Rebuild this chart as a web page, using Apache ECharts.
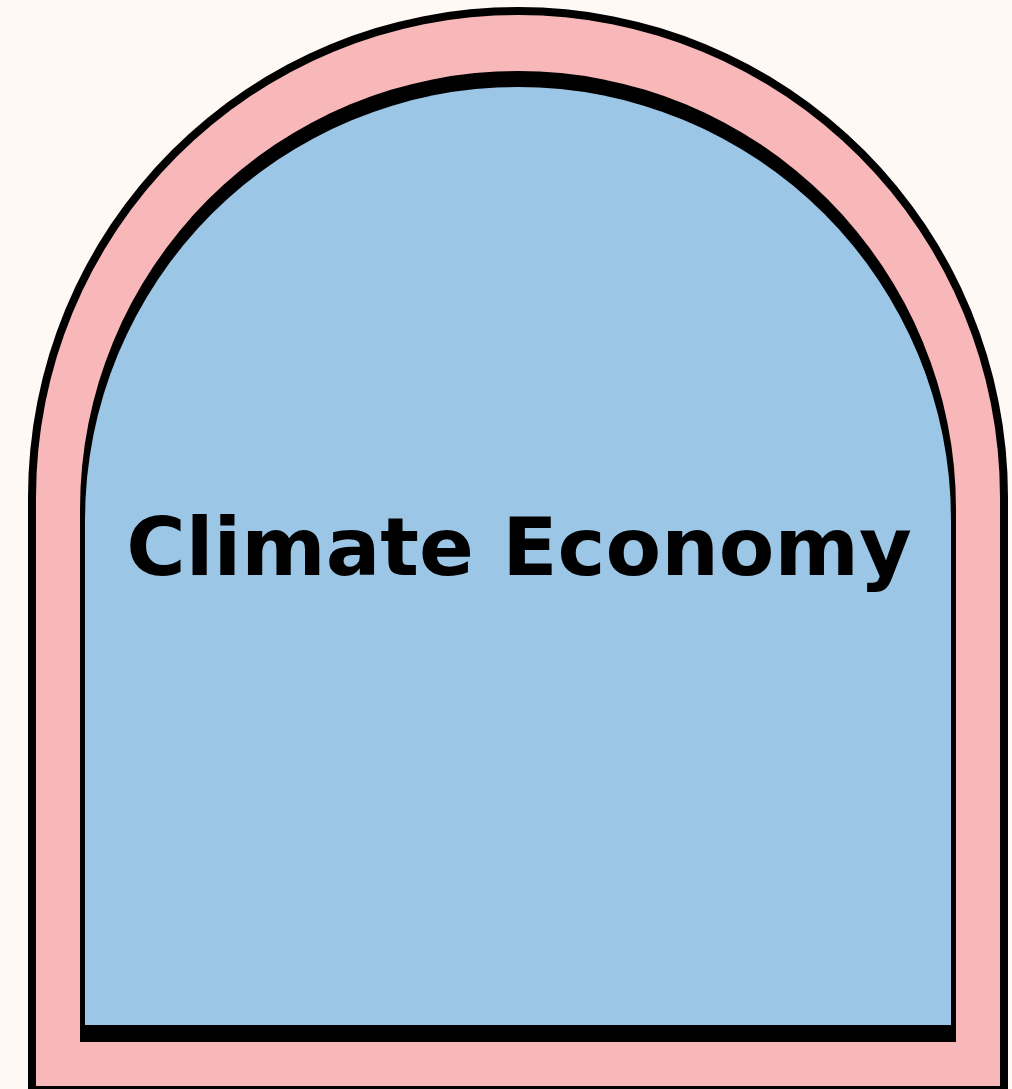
<!DOCTYPE html>
<html>
<head>
<meta charset="utf-8">
<script src="https://cdn.jsdelivr.net/npm/echarts@6/dist/echarts.min.js"></script>
<style>
  html, body { margin: 0; padding: 0; background: #FFF9F5; }
  #main { width: 1012px; height: 1089px; }
</style>
</head>
<body>
<div id="main"></div>
<script>
// text on the poster
const titleWords = ['Climate', 'Economy'];

// palette
const colors = {
  bg: '#FFF9F5',
  pink: '#F8B8B9',
  blue: '#9BC6E6',
  ink: '#000000'
};

// arch = round top (circle) + straight sides (rect)
function arch(left, right, top, bottom, fill) {
  const r = (right - left) / 2;
  const cy = top + r;
  return [
    { type: 'circle', shape: { cx: left + r, cy: cy, r: r }, style: { fill: fill } },
    { type: 'rect', shape: { x: left, y: cy, width: right - left, height: bottom - cy }, style: { fill: fill } }
  ];
}

const chart = echarts.init(document.getElementById('main'));

const option = {
  backgroundColor: colors.bg,
  animation: false,
  graphic: [
    ...arch(28, 1008, 7, 1095, colors.ink),
    ...arch(36, 1000, 15, 1086, colors.pink),
    ...arch(80, 956, 71, 1042, colors.ink),
    ...arch(85, 951, 87, 1025, colors.blue),
    {
      type: 'text',
      x: 519,
      y: 554,
      style: {
        text: titleWords.join(' '),
        fill: colors.ink,
        font: 'bold 81px "DejaVu Sans"',
        textAlign: 'center',
        textVerticalAlign: 'middle'
      }
    }
  ]
};

chart.setOption(option);
</script>
</body>
</html>
